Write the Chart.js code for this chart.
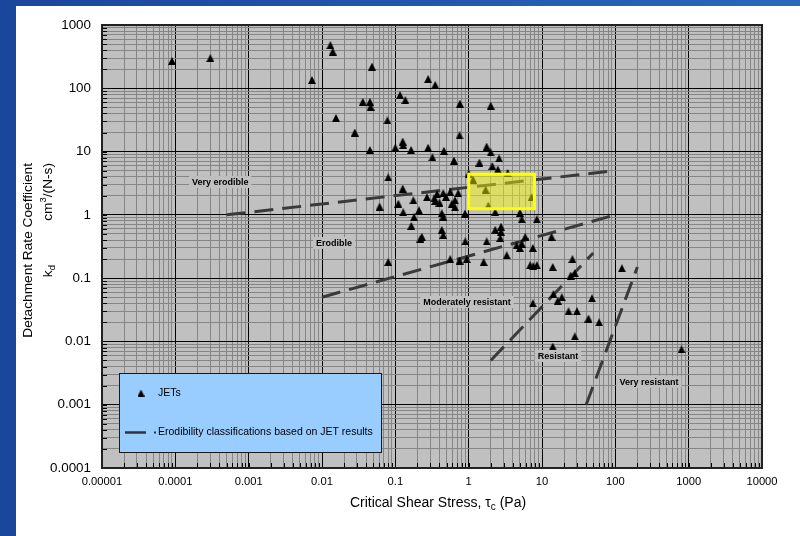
<!DOCTYPE html>
<html>
<head>
<meta charset="utf-8">
<script src="https://cdn.jsdelivr.net/npm/chart.js@4.4.1/dist/chart.umd.min.js"></script>
<style>
  html, body { margin: 0; padding: 0; }
  #frame { position: relative; width: 800px; height: 536px; overflow: hidden;
           background: linear-gradient(90deg, #1a469c 0%, #2a66bf 100%); }
  #panel { position: absolute; left: 16px; top: 6px; right: 0; bottom: 0; background: #ffffff; }
  #c { position: absolute; left: 0; top: 0; }
</style>
</head>
<body>
<div id="frame">
  <div id="panel"></div>
  <canvas id="c" width="800" height="536"></canvas>
</div>
<script>
// Axis tick labels (one per decade)
const xTickLabels = ['0.00001', '0.0001', '0.001', '0.01', '0.1', '1', '10', '100', '1000', '10000'];
const yTickLabels = ['0.0001', '0.001', '0.01', '0.1', '1', '10', '100', '1000'];
const X_MIN_EXP = -5, X_MAX_EXP = 4;
const Y_MIN_EXP = -4, Y_MAX_EXP = 3;

// JET test results: critical shear stress (Pa) and detachment rate coefficient (cm^3/(N-s))
const jetTau = [
  0.00009, 0.0003, 0.0073, 0.013, 0.014, 0.048, 0.28, 0.35, 0.036, 0.045,
  0.046, 0.116, 0.137, 0.76, 2.0, 0.0155, 0.078, 0.028, 0.75, 0.045,
  0.10, 0.126, 0.128, 0.164, 0.28, 0.32, 0.46, 0.63, 1.4, 1.76,
  2.0, 2.6, 2.1, 2.5, 3.4, 0.08, 1.0, 1.15, 0.126, 0.061,
  0.11, 0.128, 0.176, 0.21, 0.18, 0.165, 0.27, 0.34, 0.37, 0.40,
  0.35, 0.45, 0.49, 0.56, 0.72, 0.59, 0.65, 0.65, 0.43, 0.45,
  0.43, 0.45, 0.23, 0.22, 0.08, 0.56, 0.75, 0.94, 0.89, 0.9,
  1.76, 1.6, 1.7, 1.85, 2.3, 2.3, 2.76, 2.76, 2.7, 3.3,
  5.0, 5.3, 8.5, 7.2, 4.5, 5.0, 5.3, 5.9, 7.5, 6.9,
  7.6, 8.5, 13.5, 14, 26, 24.6, 28, 123, 14.3, 16.4,
  18.6, 7.5, 23, 30, 48, 43, 60, 28, 14, 800
];
const jetKd = [
  270, 300, 135, 480, 380, 220, 140, 113, 61, 61,
  51, 78, 65, 57, 53, 34, 31, 20, 18, 10.6,
  11.5, 14.4, 12.7, 10.6, 11.5, 8.1, 10.3, 7.2, 6.7, 12,
  9.7, 7.8, 5.9, 5.2, 4.6, 3.9, 4.5, 3.6, 2.6, 1.35,
  1.5, 1.1, 1.7, 1.18, 0.92, 0.67, 1.9, 1.83, 2.14, 1.56,
  1.66, 2.2, 1.92, 2.3, 2.2, 1.5, 1.7, 1.32, 1.06, 0.94,
  0.58, 0.48, 0.45, 0.42, 0.18, 0.2, 0.19, 0.2, 1.05, 0.38,
  0.38, 0.18, 2.5, 1.4, 1.1, 0.58, 0.65, 0.54, 0.43, 0.23,
  1.08, 0.85, 0.85, 1.9, 0.33, 0.30, 0.35, 0.45, 0.30, 0.16,
  0.155, 0.16, 0.45, 0.15, 0.2, 0.11, 0.12, 0.143, 0.056, 0.044,
  0.05, 0.04, 0.03, 0.03, 0.048, 0.023, 0.02, 0.012, 0.0083, 0.0075
];

// Erodibility class boundaries (end points, tau in Pa / kd in cm^3/(N-s))
const veryErodibleTau = [0.0005, 100];
const veryErodibleKd = [1, 5];
const erodibleTau = [0.01, 100];
const erodibleKd = [0.05, 1];
const modResistantTau = [2, 50];
const modResistantKd = [0.005, 0.25];
const resistantTau = [40, 200];
const resistantKd = [0.001, 0.15];

// Highlighted range
const highlightTau = [1, 7.9];
const highlightKd = [1.25, 4.4];

// Class names
const regionNames = ['Very erodible', 'Erodible', 'Moderately resistant', 'Resistant', 'Very resistant'];
const regionTau = [0.00041, 0.0146, 0.95, 16.5, 288];
const regionKd = [3.3, 0.36, 0.042, 0.0059, 0.0023];

const FONT = '"Liberation Sans", Arial, Helvetica, sans-serif';
Chart.defaults.font.family = FONT;
Chart.defaults.color = '#000000';

// Solid black triangle marker
function makeTriangle(w, h) {
  const cv = document.createElement('canvas');
  cv.width = w; cv.height = h;
  const g = cv.getContext('2d');
  g.fillStyle = '#000000';
  g.beginPath();
  g.moveTo(w / 2, 0);
  g.lineTo(w, h);
  g.lineTo(0, h);
  g.closePath();
  g.fill();
  return cv;
}
const triangleMarker = makeTriangle(8, 8);
const legendMarker = makeTriangle(7, 7);

function decadeTicks(lo, hi) {
  const ticks = [];
  for (let e = lo; e < hi; e++) {
    for (let k = 1; k <= 9; k++) {
      ticks.push({ value: k * Math.pow(10, e), major: k === 1, exp: e });
    }
  }
  ticks.push({ value: Math.pow(10, hi), major: true, exp: hi });
  return ticks;
}

function toPoints(xs, ys) {
  return xs.map((x, i) => ({ x: x, y: ys[i] }));
}

function boundary(xs, ys) {
  return {
    data: toPoints(xs, ys),
    showLine: true,
    borderColor: '#3a3a3a',
    borderWidth: 3,
    borderDash: [19, 9],
    borderCapStyle: 'butt',
    pointRadius: 0,
    pointHoverRadius: 0,
    fill: false
  };
}

const gridColor = (c) => (c.tick && c.tick.major ? '#000000' : '#858585');

const decorations = {
  id: 'decorations',
  beforeDraw(chart) {
    const { ctx, chartArea: a } = chart;
    ctx.save();
    ctx.fillStyle = '#c0c0c0';
    ctx.fillRect(a.left, a.top, a.right - a.left, a.bottom - a.top);
    ctx.restore();
  },
  afterDatasetsDraw(chart) {
    const { ctx, chartArea: a, scales } = chart;
    const xs = scales.x, ys = scales.y;

    // highlighted range
    const bx1 = xs.getPixelForValue(highlightTau[0]);
    const bx2 = xs.getPixelForValue(highlightTau[1]);
    const by1 = ys.getPixelForValue(highlightKd[1]);
    const by2 = ys.getPixelForValue(highlightKd[0]);
    ctx.save();
    ctx.fillStyle = 'rgba(255,255,0,0.45)';
    ctx.fillRect(bx1, by1, bx2 - bx1, by2 - by1);
    ctx.strokeStyle = '#ffff00';
    ctx.lineWidth = 3;
    ctx.strokeRect(bx1, by1, bx2 - bx1, by2 - by1);
    ctx.restore();

    // class names
    ctx.save();
    ctx.font = 'bold 9px ' + FONT;
    ctx.textAlign = 'center';
    ctx.textBaseline = 'middle';
    regionNames.forEach((name, i) => {
      const px = xs.getPixelForValue(regionTau[i]);
      const py = ys.getPixelForValue(regionKd[i]);
      const w = ctx.measureText(name).width;
      ctx.fillStyle = '#c0c0c0';
      ctx.fillRect(px - w / 2 - 3, py - 6, w + 6, 12);
      ctx.fillStyle = '#000000';
      ctx.fillText(name, px, py + 0.5);
    });
    ctx.restore();

    // legend
    const lx = a.left + 17, ly = a.bottom - 95, lw = 262, lh = 79;
    ctx.save();
    ctx.fillStyle = '#99ccff';
    ctx.fillRect(lx, ly, lw, lh);
    ctx.strokeStyle = '#1a1a1a';
    ctx.lineWidth = 1;
    ctx.strokeRect(lx + 0.5, ly + 0.5, lw, lh);

    const r1 = ly + 20;
    ctx.drawImage(legendMarker, lx + 22 - 3.5, r1 - 3.5);
    ctx.fillStyle = '#000000';
    ctx.font = '10.5px ' + FONT;
    ctx.textBaseline = 'middle';
    ctx.textAlign = 'left';
    ctx.fillText('JETs', lx + 39, r1);

    const r2 = ly + 59.5;
    ctx.strokeStyle = '#333333';
    ctx.lineWidth = 2.5;
    ctx.beginPath();
    ctx.moveTo(lx + 6, r2);
    ctx.lineTo(lx + 27, r2);
    ctx.stroke();
    ctx.fillStyle = '#333333';
    ctx.fillRect(lx + 35, r2 - 1, 2, 2);
    ctx.fillStyle = '#000000';
    ctx.fillText('Erodibility classifications based on JET results', lx + 39, r2);
    ctx.restore();
  },
  afterDraw(chart) {
    const { ctx, chartArea: a, scales } = chart;
    ctx.save();
    // inward tick marks on left and bottom edges
    ctx.strokeStyle = '#000000';
    ctx.lineWidth = 1;
    ctx.beginPath();
    scales.y.ticks.forEach((t) => {
      const py = Math.round(scales.y.getPixelForValue(t.value)) + 0.5;
      ctx.moveTo(a.left, py);
      ctx.lineTo(a.left + 5, py);
    });
    scales.x.ticks.forEach((t) => {
      const px = Math.round(scales.x.getPixelForValue(t.value)) + 0.5;
      ctx.moveTo(px, a.bottom);
      ctx.lineTo(px, a.bottom - 5);
    });
    ctx.stroke();
    // plot frame
    ctx.strokeStyle = '#222222';
    ctx.lineWidth = 2;
    ctx.strokeRect(a.left, a.top, a.right - a.left, a.bottom - a.top);
    ctx.restore();

    // x axis title: Critical Shear Stress, tau_c (Pa)
    ctx.save();
    ctx.fillStyle = '#000000';
    ctx.textBaseline = 'middle';
    ctx.textAlign = 'left';
    const mainFont = '14px ' + FONT, subFont = '10px ' + FONT;
    const p1 = 'Critical Shear Stress, \u03c4', p2 = 'c', p3 = ' (Pa)';
    ctx.font = mainFont;
    const w1 = ctx.measureText(p1).width, w3 = ctx.measureText(p3).width;
    ctx.font = subFont;
    const w2 = ctx.measureText(p2).width;
    const cx = (a.left + a.right) / 2 + 6, cy = 503;
    let sx = cx - (w1 + w2 + w3) / 2;
    ctx.font = mainFont; ctx.fillText(p1, sx, cy); sx += w1;
    ctx.font = subFont; ctx.fillText(p2, sx, cy + 4); sx += w2;
    ctx.font = mainFont; ctx.fillText(p3, sx, cy);
    ctx.restore();

    // y axis title (two rotated lines, end-aligned)
    ctx.save();
    ctx.fillStyle = '#000000';
    ctx.textBaseline = 'middle';
    ctx.translate(28, 163);
    ctx.rotate(-Math.PI / 2);
    ctx.font = '13.7px ' + FONT;
    ctx.textAlign = 'right';
    ctx.fillText('Detachment Rate Coefficient', 0, 0);
    ctx.restore();

    ctx.save();
    ctx.fillStyle = '#000000';
    ctx.textBaseline = 'middle';
    ctx.textAlign = 'left';
    ctx.translate(48, 163);
    ctx.rotate(-Math.PI / 2);
    const f = '13.7px ' + FONT, fs = '9.5px ' + FONT;
    ctx.font = f;
    const wCm = ctx.measureText('cm').width, wRest = ctx.measureText('/(N-s)').width;
    const wK = ctx.measureText('k').width;
    ctx.font = fs;
    const w3s = ctx.measureText('3').width, wD = ctx.measureText('d').width;
    let s = -(wCm + w3s + wRest);
    ctx.font = f; ctx.fillText('cm', s, 0); s += wCm;
    ctx.font = fs; ctx.fillText('3', s, -4.5); s += w3s;
    ctx.font = f; ctx.fillText('/(N-s)', s, 0);
    let k0 = -102 - (wK + wD);
    ctx.font = f; ctx.fillText('k', k0, 0); k0 += wK;
    ctx.font = fs; ctx.fillText('d', k0, 4);
    ctx.restore();
  }
};

new Chart(document.getElementById('c'), {
  type: 'scatter',
  data: {
    datasets: [
      {
        label: 'JETs',
        data: toPoints(jetTau, jetKd),
        pointStyle: triangleMarker,
        pointRadius: 4,
        pointHoverRadius: 4,
        showLine: false
      },
      boundary(veryErodibleTau, veryErodibleKd),
      boundary(erodibleTau, erodibleKd),
      boundary(modResistantTau, modResistantKd),
      boundary(resistantTau, resistantKd)
    ]
  },
  options: {
    responsive: false,
    animation: false,
    devicePixelRatio: 1,
    layout: { padding: { left: 0, top: 25, right: 38, bottom: 0 } },
    plugins: { legend: { display: false }, tooltip: { enabled: false } },
    scales: {
      x: {
        type: 'logarithmic',
        min: Math.pow(10, X_MIN_EXP),
        max: Math.pow(10, X_MAX_EXP),
        afterBuildTicks: (axis) => { axis.ticks = decadeTicks(X_MIN_EXP, X_MAX_EXP); },
        afterFit: (axis) => { axis.height = 68; },
        grid: { color: gridColor, lineWidth: 1, drawTicks: false },
        border: { display: false },
        ticks: {
          autoSkip: false,
          maxRotation: 0,
          padding: 7,
          font: { size: 11.2 },
          callback: (v, i, ticks) => (ticks[i].major ? xTickLabels[ticks[i].exp - X_MIN_EXP] : '')
        }
      },
      y: {
        type: 'logarithmic',
        min: Math.pow(10, Y_MIN_EXP),
        max: Math.pow(10, Y_MAX_EXP),
        afterBuildTicks: (axis) => { axis.ticks = decadeTicks(Y_MIN_EXP, Y_MAX_EXP); },
        afterFit: (axis) => { axis.width = 102; },
        grid: { color: gridColor, lineWidth: 1, drawTicks: false },
        border: { display: false },
        ticks: {
          autoSkip: false,
          padding: 11,
          font: { size: 13.4 },
          callback: (v, i, ticks) => (ticks[i].major ? yTickLabels[ticks[i].exp - Y_MIN_EXP] : '')
        }
      }
    }
  },
  plugins: [decorations]
});
</script>
</body>
</html>
